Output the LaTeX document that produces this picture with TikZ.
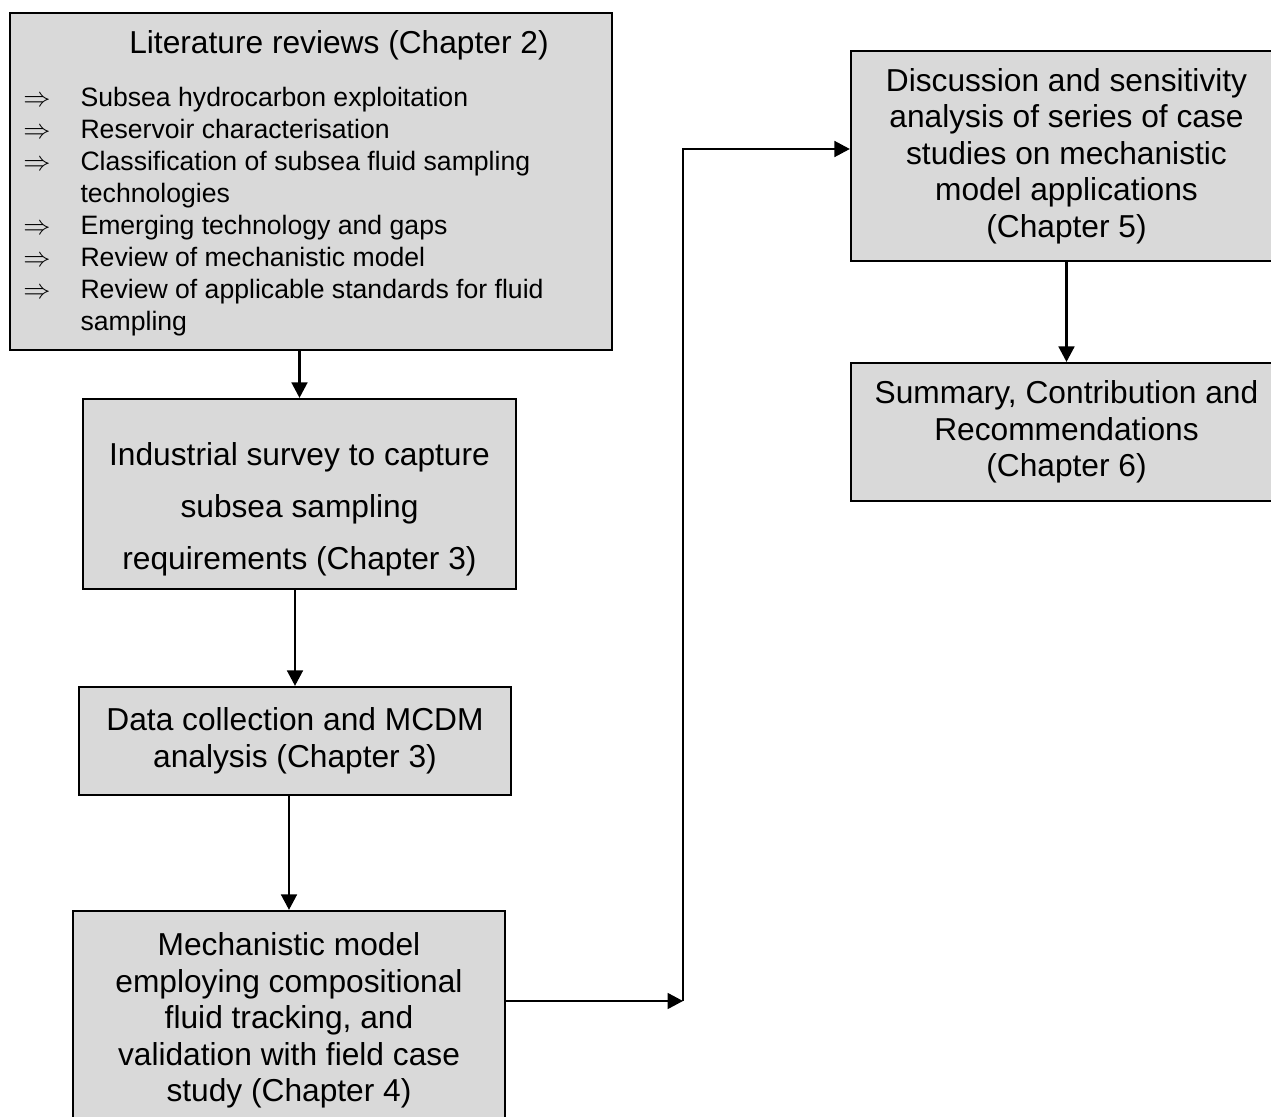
\documentclass[tikz,border=0pt]{standalone}
\usepackage{fontspec}
\setmainfont{Liberation Sans}
\usetikzlibrary{arrows.meta}
\definecolor{boxgray}{RGB}{217,217,217}
\begin{document}
\begin{tikzpicture}[x=0.4415pt,y=-0.4415pt,
  box/.style={draw=black, line width=1pt, fill=boxgray, rectangle,
    inner sep=0pt, align=center, font=\fontsize{14}{16.1}\selectfont},
  boxtext/.style={inner sep=0pt, align=center, font=\fontsize{14}{16.1}\selectfont},
  conn/.style={line width=0.9pt, -{Triangle[length=6.8pt,width=7pt]}},
]
\useasboundingbox (0,0) rectangle (1271,1117);
\clip (0,0) rectangle (1271,1117);
\fill[white] (0,0) rectangle (1271,1117);

% literature review box with its title and bullet list
\node[box, minimum width=265.8pt, minimum height=148.8pt] (lit) at (311,181.5) {};
\node[boxtext] (littitle) at (339,45) {Literature reviews (Chapter 2)};
\node[anchor=north west, inner sep=0pt, font=\fontsize{11.75}{14.1}\selectfont] (litlist) at (23,84) {%
  \begin{tabular}{@{}p{25.2pt}@{}l@{}}
  $\Rightarrow$ & Subsea hydrocarbon exploitation\\
  $\Rightarrow$ & Reservoir characterisation\\
  $\Rightarrow$ & Classification of subsea fluid sampling\\
   & technologies\\
  $\Rightarrow$ & Emerging technology and gaps\\
  $\Rightarrow$ & Review of mechanistic model\\
  $\Rightarrow$ & Review of applicable standards for fluid\\
   & sampling
  \end{tabular}};

% survey box: wider line spacing, text sits a little low
\node[box, minimum width=191.2pt, minimum height=83.9pt] (survey) at (299.5,494) {};
\node[boxtext, font=\fontsize{14}{23}\selectfont] (surveytext) at (299.5,509)
  {Industrial survey to capture\\subsea sampling\\requirements (Chapter 3)};

\node[box, minimum width=190.7pt, minimum height=47.7pt] (data) at (295,741)
  {Data collection and MCDM\\analysis (Chapter 3)};

\node[box, minimum width=190.7pt, minimum height=96.7pt] (mech) at (289,1020.5)
  {Mechanistic model\\employing compositional\\fluid tracking, and\\validation with field case\\study (Chapter 4)};

\node[box, minimum width=190.3pt, minimum height=92.7pt] (disc) at (1066.5,156)
  {Discussion and sensitivity\\analysis of series of case\\studies on mechanistic\\model applications\\(Chapter 5)};

\node[box, minimum width=190.3pt, minimum height=60.9pt] (summ) at (1066.5,432)
  {Summary, Contribution and\\Recommendations\\(Chapter 6)};

% connectors
\coordinate (j1) at (683,1001);
\coordinate (j2) at (683,149);
\draw[conn] (lit.south -| survey.north) -- (survey.north);
\draw[conn] (survey.south -| data.north) -- (data.north);
\draw[conn] (data.south -| mech.north) -- (mech.north);
\draw[conn] (mech.east |- j1) -- (j1);
\draw[conn] (j1) -- (j2) -- (disc.west |- j2);
\draw[conn] (disc.south) -- (summ.north);
\end{tikzpicture}
\end{document}
